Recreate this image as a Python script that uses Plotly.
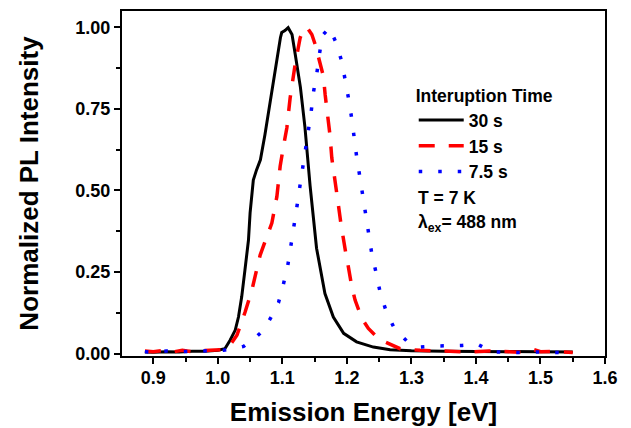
import plotly.graph_objects as go

# ---- data ----
e_30s = [0.887, 0.900, 0.920, 0.940, 0.960, 0.980, 1.000, 1.011, 1.019, 1.027, 1.032, 1.037,
         1.042, 1.0475, 1.050, 1.055, 1.060, 1.066, 1.073, 1.081, 1.089, 1.092, 1.097, 1.099,
         1.104, 1.109, 1.115, 1.120, 1.128, 1.135, 1.143, 1.153, 1.158, 1.166, 1.179, 1.195,
         1.215, 1.241, 1.267, 1.300, 1.350, 1.400, 1.450, 1.500, 1.550]
i_30s = [0.005, 0.004, 0.006, 0.005, 0.007, 0.007, 0.010, 0.015, 0.041, 0.072, 0.112, 0.174,
         0.256, 0.348, 0.431, 0.532, 0.563, 0.594, 0.671, 0.773, 0.866, 0.907, 0.968, 0.984,
         0.990, 0.999, 0.978, 0.917, 0.816, 0.694, 0.514, 0.323, 0.266, 0.184, 0.112, 0.062,
         0.036, 0.020, 0.012, 0.009, 0.007, 0.007, 0.006, 0.006, 0.005]

e_15s = [0.887, 0.900, 0.915, 0.930, 0.945, 0.960, 0.975, 0.990, 1.005, 1.0166, 1.0296, 1.0424,
         1.0528, 1.0656, 1.0707, 1.0837, 1.0915, 1.0966, 1.1017, 1.107, 1.1121, 1.1198, 1.1276,
         1.1327, 1.138, 1.1457, 1.1508, 1.1585, 1.1636, 1.1663, 1.1689, 1.1729, 1.174, 1.1766,
         1.1802, 1.1844, 1.1868, 1.1906, 1.1937, 1.1988, 1.2023, 1.2076, 1.2127, 1.2231, 1.2333,
         1.2514, 1.2591, 1.2824, 1.3133, 1.3489, 1.3907, 1.420, 1.450, 1.470, 1.490, 1.500,
         1.520, 1.550]
i_15s = [0.008, 0.006, 0.009, 0.005, 0.010, 0.006, 0.009, 0.010, 0.012, 0.020, 0.056, 0.128,
         0.195, 0.302, 0.328, 0.400, 0.481, 0.574, 0.635, 0.692, 0.784, 0.886, 0.968,
         0.994, 1.000, 0.978, 0.948, 0.886, 0.850, 0.794, 0.753, 0.692, 0.666, 0.600,
         0.555, 0.497, 0.456, 0.400, 0.358, 0.302, 0.266, 0.205, 0.164, 0.108, 0.077,
         0.041, 0.036, 0.015, 0.010, 0.008, 0.005, 0.008, 0.006, 0.004, 0.012, 0.006,
         0.007, 0.003]

e_7_5s = [0.887, 0.900, 0.920, 0.940, 0.960, 0.980, 1.000, 1.0088, 1.0243, 1.0398, 1.0579,
          1.0718, 1.0827, 1.094, 1.1017, 1.1085, 1.1132, 1.1183, 1.1224, 1.1265, 1.1311,
          1.1353, 1.1392, 1.1446, 1.1481, 1.1534, 1.1574, 1.1621, 1.1729, 1.1833, 1.1921,
          1.1983, 1.2029, 1.2076, 1.2111, 1.2153, 1.2200, 1.2246, 1.2293, 1.2339, 1.2385,
          1.2452, 1.2514, 1.2607, 1.2735, 1.2927, 1.3118, 1.3354, 1.3571, 1.3788, 1.4026,
          1.4243, 1.450, 1.470, 1.500, 1.520, 1.547]
i_7_5s = [0.006, 0.004, 0.008, 0.006, 0.007, 0.008, 0.009, 0.010, 0.015, 0.022, 0.048,
          0.074, 0.112, 0.156, 0.213, 0.271, 0.330, 0.387, 0.448, 0.504, 0.563,
          0.623, 0.681, 0.740, 0.800, 0.858, 0.917, 0.975, 0.999, 0.953, 0.895,
          0.835, 0.778, 0.719, 0.661, 0.601, 0.543, 0.484, 0.425, 0.367, 0.307,
          0.248, 0.189, 0.131, 0.077, 0.039, 0.020, 0.023, 0.023, 0.025, 0.029,
          0.005, 0.004, 0.003, 0.005, 0.004, 0.002]

series_names = ["30 s", "15 s", "7.5 s"]
legend_title = "Interuption Time"
x_title = "Emission Energy [eV]"
y_title = "Normalized PL Intensity"
note_temp = "T = 7 K"
note_lambda = "λ<sub>ex</sub>= 488 nm"

FONT = "Liberation Sans, Arial, sans-serif"

fig = go.Figure()
fig.add_trace(go.Scatter(x=e_30s, y=i_30s, mode="lines", name=series_names[0],
                         line=dict(color="black", width=3)))
fig.add_trace(go.Scatter(x=e_15s, y=i_15s, mode="lines", name=series_names[1],
                         line=dict(color="#ff0000", width=3.5, dash="16px,14px")))
fig.add_trace(go.Scatter(x=e_7_5s, y=i_7_5s, mode="lines", name=series_names[2],
                         line=dict(color="#0000ff", width=3.5, dash="3.5px,16px")))

axis_common = dict(showline=True, linewidth=2, linecolor="black", mirror=True,
                   ticks="outside", ticklen=6, tickwidth=2, tickcolor="black",
                   showgrid=False, zeroline=False, automargin=False,
                   tickfont=dict(family=FONT, size=18, color="black", weight="bold"))

fig.update_xaxes(range=[0.8515, 1.6], dtick=0.1, tick0=0.9, tickformat=".1f",
                 minor=dict(dtick=0.05, ticks="outside", ticklen=4, tickwidth=2, tickcolor="black"),
                 title=dict(text=x_title, standoff=16,
                            font=dict(family=FONT, size=26, color="black", weight="bold")),
                 ticklabelstandoff=-2,
                 **axis_common)
fig.update_yaxes(range=[-0.0074, 1.05], dtick=0.25, tick0=0, tickformat=".2f",
                 minor=dict(dtick=0.125, ticks="outside", ticklen=4, tickwidth=2, tickcolor="black"),
                 title=dict(text=y_title, standoff=29,
                            font=dict(family=FONT, size=26, color="black", weight="bold")),
                 **axis_common)

fig.add_annotation(x=0.609, y=0.458, xref="paper", yref="paper", xanchor="left", yanchor="middle",
                   text=note_temp, showarrow=False,
                   font=dict(family=FONT, size=17.5, color="black", weight="bold"))
fig.add_annotation(x=0.609, y=0.383, xref="paper", yref="paper", xanchor="left", yanchor="middle",
                   text=note_lambda, showarrow=False,
                   font=dict(family=FONT, size=17.5, color="black", weight="bold"))

# the page body has an 8 px default margin, so the figure is 8 px smaller and margins shifted
fig.update_layout(
    width=623, height=420,
    margin=dict(l=114, r=26, t=3, b=72),
    paper_bgcolor="white", plot_bgcolor="white",
    showlegend=True,
    legend=dict(x=0.604, y=0.802, xanchor="left", yanchor="top",
                bgcolor="rgba(0,0,0,0)", itemwidth=45,
                title=dict(text=legend_title,
                           font=dict(family=FONT, size=17.5, color="black", weight="bold")),
                font=dict(family=FONT, size=17.5, color="black", weight="bold")),
)

fig.write_html("out.html")
